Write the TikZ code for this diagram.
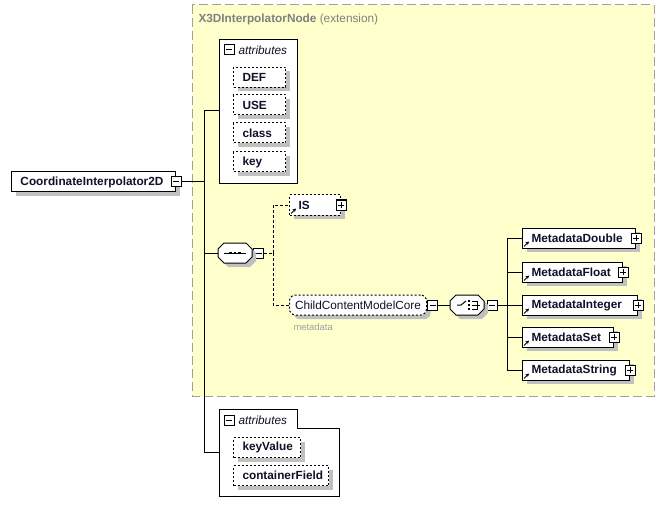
\documentclass[tikz,border=0pt]{standalone}
\usepackage{fontspec}
\setmainfont{Liberation Sans}[Scale=1.18]
\usetikzlibrary{shadows,arrows.meta}

\definecolor{extyellow}{HTML}{FFFFCC}
\definecolor{extgray}{HTML}{A0A0A0}
\definecolor{shadowgray}{HTML}{C0C0C0}
\definecolor{titlegray}{HTML}{808080}
\definecolor{labelnavy}{HTML}{10102A}

\tikzset{
  boxshadow/.style={drop shadow={shadow xshift=4pt, shadow yshift=-4pt, fill=shadowgray, opacity=1}},
  elembox/.style={draw, fill=white, boxshadow, anchor=west, minimum height=20pt,
    inner xsep=0pt, inner ysep=0pt, text width=#1, align=left, font=\bfseries, text=labelnavy,
    execute at begin node={\noindent\hspace*{9pt}}},
  attrbox/.style={elembox=#1, dash pattern=on 2pt off 2pt},
  groupbox/.style={draw, fill=white, anchor=north west, inner sep=0pt},
  grouptitle/.style={anchor=west, inner sep=0pt, font=\itshape, text=labelnavy},
  compositor/.style={minimum width=34pt, minimum height=20pt, inner sep=0pt},
  octagon/.style={draw, fill=white, boxshadow},
  minusbox/.style={draw, fill=white, minimum size=10pt, inner sep=0pt,
    path picture={\draw ([xshift=2pt]path picture bounding box.west) -- ([xshift=-2pt]path picture bounding box.east);}},
  plusbox/.style={draw, fill=white, minimum size=10pt, inner sep=0pt,
    path picture={\draw ([xshift=2pt]path picture bounding box.west) -- ([xshift=-2pt]path picture bounding box.east);
      \draw ([yshift=2pt]path picture bounding box.south) -- ([yshift=-2pt]path picture bounding box.north);}},
  optline/.style={dash pattern=on 3pt off 2pt},
  refarrow/.style={-{Stealth[length=3.5pt,width=3.5pt]}, line width=1pt}
}

\begin{document}
\begin{tikzpicture}[x=1pt, y=-1pt, line width=1pt]
  \useasboundingbox (0,0) rectangle (667,516);

  % extension area
  \draw[fill=extyellow, draw=extgray, dash pattern=on 9pt off 4pt] (192,5) rectangle (654,396);
  \node[anchor=west, text=titlegray, inner sep=0pt] (exttitle) at (198,19) {\textbf{X3DInterpolatorNode} (extension)};

  % root element
  \node[elembox=164pt] (root) at (11,182) {CoordinateInterpolator2D};
  \node[minusbox] (rootpm) at (root.east) {};

  % inherited attributes
  \node[groupbox, minimum width=78pt, minimum height=144pt] (attrA) at (219,39) {};
  \node[minusbox] (attrApm) at (229,50) {};
  \node[grouptitle] (attrAtitle) at (238,50) {attributes};
  \node[attrbox=52pt] (def) at (233,77.5) {DEF};
  \node[attrbox=52pt] (use) at (233,105) {USE};
  \node[attrbox=52pt] (class) at (233,133) {class};
  \node[attrbox=52pt] (key) at (233,162) {key};

  % own attributes
  \node[minimum width=119pt, minimum height=86pt, anchor=north west, inner sep=0pt] (attrB) at (219,409) {};
  \draw[fill=white] (attrB.north west) -- ++(78,0) -- ++(0,19) -| (attrB.south east) -- (attrB.south west) -- cycle;
  \node[minusbox] (attrBpm) at (229,420) {};
  \node[grouptitle] (attrBtitle) at (238,420) {attributes};
  \node[attrbox=67pt] (keyvalue) at (233,447.5) {keyValue};
  \node[attrbox=95pt] (containerfield) at (233,475.5) {containerField};

  % compositors
  \node[compositor] (seq) at (235,253) {};
  \node[minusbox] (seqpm) at (258.5,253) {};
  \node[compositor] (choice) at (467,305) {};
  \node[minusbox] (choicepm) at (492,305) {};
  \foreach \c in {seq, choice}
    \draw[octagon] (\c.center) ++(-17pt,4pt) -- ++(6pt,6pt) -- ++(22pt,0pt) -- ++(6pt,-6pt)
      -- ++(0pt,-8pt) -- ++(-6pt,-6pt) -- ++(-22pt,0pt) -- ++(-6pt,6pt) -- cycle;

  \draw ([xshift=-11pt]seq.center) -- ([xshift=11pt]seq.center);
  \foreach \d in {-4.5,0,4.5}
    \fill ([xshift=\d pt]seq.center) +(-1.4pt,-1.4pt) rectangle +(1.4pt,1.4pt);

  \draw ([xshift=-10pt]choice.center) -- ++(4pt,0) -- ++(5pt,4pt);
  \foreach \d in {-4,0,4}
    \fill ([xshift=2pt,yshift=\d pt]choice.center) +(-1.3pt,-1.3pt) rectangle +(1.3pt,1.3pt);
  \draw ([xshift=5pt,yshift=4pt]choice.center) -- ++(5pt,0) -- ++(0,-8pt) -- ++(-5pt,0);
  \draw ([xshift=5pt]choice.center) -- ++(8pt,0);

  % children of the sequence
  \node[elembox=51pt, dash pattern=on 2pt off 2pt] (is) at (289,205) {IS};
  \node[plusbox] (ispm) at (is.east) {};
  \draw[refarrow] ([xshift=2pt,yshift=2pt]is.south west) -- ([xshift=7pt,yshift=7pt]is.south west);

  \node[draw, fill=white, boxshadow, dash pattern=on 2pt off 2pt, rounded corners=6pt, text=labelnavy,
    anchor=west, minimum width=137pt, minimum height=20pt, inner sep=0pt] (ccmc) at (289,305) {ChildContentModelCore};
  \node[minusbox] (ccmcpm) at ([xshift=5.5pt]ccmc.east) {};
  \node[anchor=west, inner sep=0pt, text=extgray, font=\fontsize{8}{10}\selectfont] (ccmcname) at (293,327) {metadata};

  % children of the choice
  \foreach \n/\y/\w in {Double/238/113pt, Float/272/100pt, Integer/305/115pt, Set/337/91pt, String/370/107pt} {
    \node[elembox=\w] (md\n) at (522,\y) {Metadata\n};
    \node[plusbox] (md\n pm) at (md\n.east) {};
    \draw[refarrow] ([xshift=2pt,yshift=2pt]md\n.south west) -- ([xshift=7pt,yshift=7pt]md\n.south west);
  }

  % connectors
  \coordinate (trunkTop) at (204,111);
  \coordinate (trunkBot) at (204,452);
  \draw (rootpm.east) -- (rootpm.east -| trunkTop);
  \draw (trunkTop) -- (trunkBot);
  \draw (trunkTop) -- (trunkTop -| attrA.west);
  \draw (seq.west -| trunkTop) -- (seq.west);
  \draw (trunkBot) -- (trunkBot -| attrB.west);

  \coordinate (seqFork) at (273,253);
  \draw[optline] (seqpm.east) -- (seqFork);
  \draw[optline] (seqFork) |- (is.west);
  \draw[optline] (seqFork) |- (ccmc.west);

  \draw (ccmcpm.east) -- (choice.west);
  \coordinate (choiceTop) at (507,238);
  \coordinate (choiceBot) at (507,370);
  \draw (choicepm.east) -- (choicepm.east -| choiceTop);
  \draw (choiceTop) -- (choiceBot);
  \foreach \n in {Double, Float, Integer, Set, String}
    \draw (md\n.west -| choiceTop) -- (md\n.west);
\end{tikzpicture}
\end{document}
